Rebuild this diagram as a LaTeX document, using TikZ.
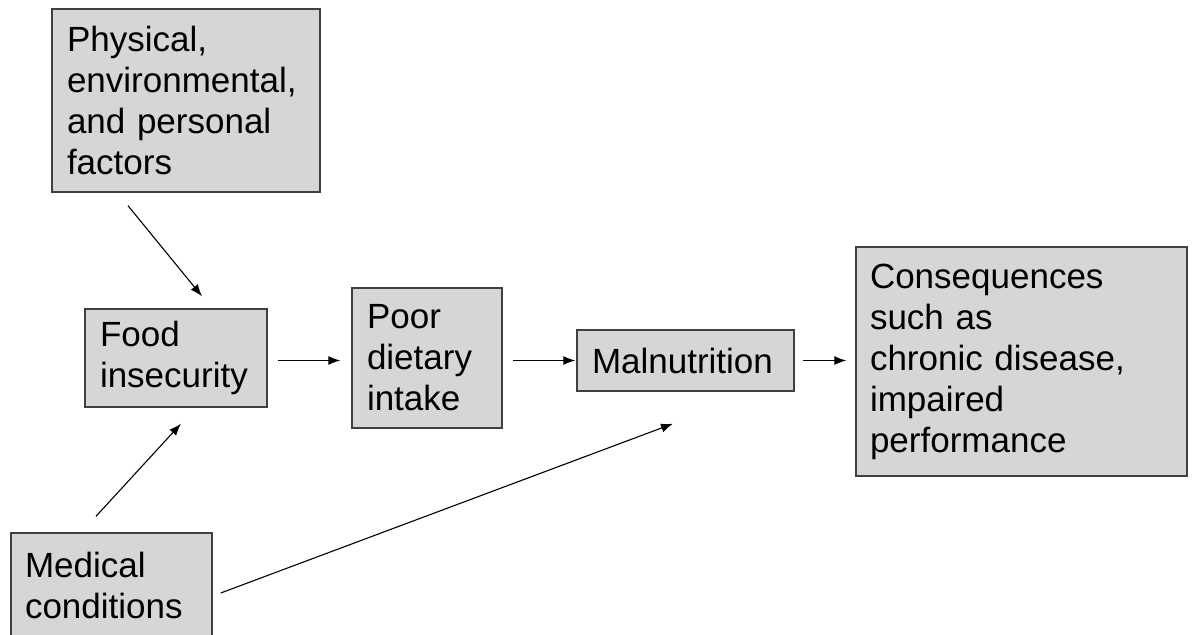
\documentclass[tikz,border=0pt]{standalone}
\usepackage{fontspec}
\setmainfont{Liberation Sans}
\usepackage{tikz}
\usetikzlibrary{positioning,calc,arrows.meta}

\definecolor{boxfill}{RGB}{214,214,214}
\definecolor{boxline}{RGB}{64,64,64}

\begin{document}
\begin{tikzpicture}[x=1pt,y=-1pt,
        factor/.style={draw=boxline,line width=1.4pt,fill=boxfill,align=left,
            inner xsep=15pt,inner ysep=0pt,font=\fontsize{35}{41}\selectfont},
        flow/.style={-{Latex[length=12pt,width=9pt]},line width=1.1pt}]
        \useasboundingbox (0,0) rectangle (1193,634);
        \clip (0,0) rectangle (1193,634);
        % boxes
        \node[factor,text width=238pt,minimum height=183pt] (phys) at (186,100.5)
            {Physical,\\environmental,\\and personal\\factors};
        \node[factor,text width=152pt,minimum height=98pt] (food) at (176,358)
            {Food\\insecurity};
        \node[factor,text width=120pt,minimum height=140pt] (poor) at (427,358)
            {Poor\\dietary\\intake};
        \node[factor,text width=187pt,minimum height=61pt] (maln) at (685.5,360.5)
            {Malnutrition};
        \node[factor,text width=303pt,inner xsep=14pt,minimum height=229pt] (cons) at (1021.5,361.5)
            {Consequences\\such as\\chronic disease,\\impaired\\performance};
        \node[factor,text width=173pt,inner xsep=14pt,minimum height=104pt] (med) at (111.5,585)
            {Medical\\conditions};
        % arrows
        \draw[flow] ([xshift=-58pt,yshift=-13pt]phys.south) -- ([xshift=26pt,yshift=12pt]food.north);
        \draw[flow] ([xshift=-15.5pt,yshift=16pt]med.north) -- ([xshift=5pt,yshift=-16pt]food.south);
        \draw[flow] ([xshift=10pt]food.east |- maln.west) -- ([xshift=-11pt]poor.west |- maln.west);
        \draw[flow] ([xshift=10pt]poor.east |- maln.west) -- ([xshift=-1pt]maln.west);
        \draw[flow] ([xshift=8pt]maln.east) -- ([xshift=-9pt]cons.west |- maln.east);
        \draw[flow] ([xshift=8pt,yshift=-8pt]med.east) -- ([xshift=-12.5pt,yshift=-32pt]maln.south);
    \end{tikzpicture}
\end{document}
